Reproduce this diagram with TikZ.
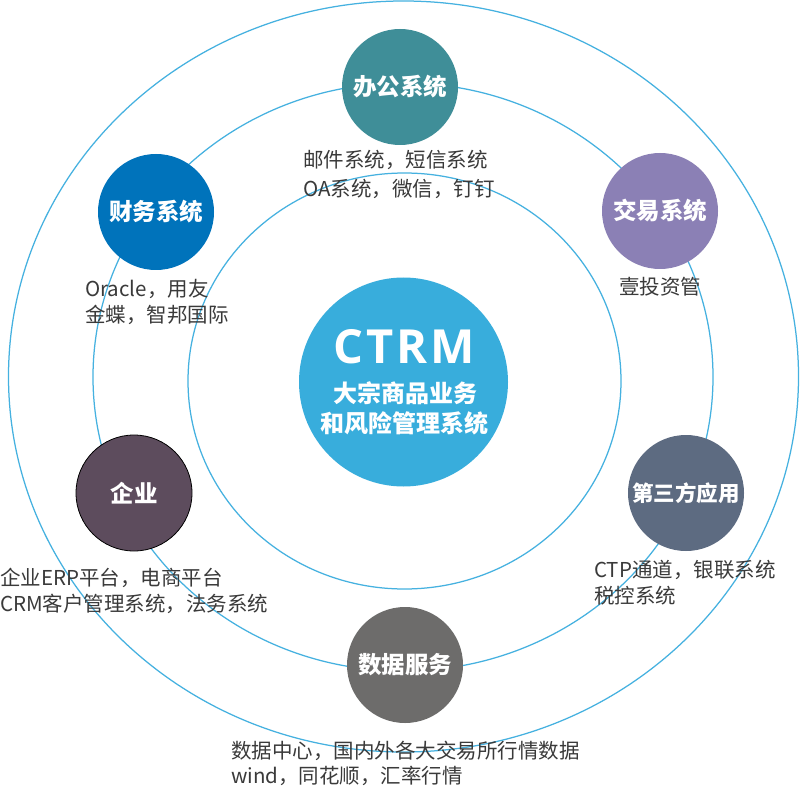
\documentclass[tikz,border=0pt]{standalone}
\usepackage{fontspec}
\setmainfont{Noto Sans CJK SC}
\newfontfamily\ctrmfont{Open Sans}
\definecolor{ringc}{HTML}{45B1E0}
\definecolor{ctrmc}{HTML}{38ADDC}
\definecolor{officec}{HTML}{3F8E98}
\definecolor{financec}{HTML}{0073BB}
\definecolor{tradec}{HTML}{8B80B5}
\definecolor{entc}{HTML}{5D4C5D}
\definecolor{thirdc}{HTML}{5D6B81}
\definecolor{datac}{HTML}{6D6C6B}
\definecolor{txtc}{HTML}{3A3A3A}
\begin{document}
\begin{tikzpicture}[x=1pt,y=-1pt,
  ring/.style={draw=ringc,line width=1.25pt},
  sat/.style={circle,minimum size=116pt,inner sep=0pt,text=white,font=\fontsize{23.5}{26}\selectfont\bfseries},
  desc/.style={anchor=west,inner sep=0pt,text=txtc,font=\fontsize{20.5}{26}\selectfont,text height=16.4pt,text depth=1pt},
  ctrmline/.style={inner sep=0pt,text=white,font=\fontsize{24}{26}\selectfont\bfseries,text height=19.2pt,text depth=1.2pt}]
\useasboundingbox (0,0) rectangle (800,786);
\fill[white] (0,0) rectangle (800,786);
% rings
\draw[ring] (403.5,376.5) ellipse [x radius=395, y radius=375.5];
\draw[ring] (403,377) ellipse [x radius=310, y radius=294];
\draw[ring] (404.5,381) ellipse [x radius=216.5, y radius=208];
% centre
\node[circle,fill=ctrmc,minimum size=209pt,inner sep=0pt] (ctrm) at (403.5,382) {};
\node[inner sep=0pt,text=white,font=\ctrmfont\fontsize{47}{50}\selectfont\bfseries\addfontfeature{LetterSpace=6},text height=33.6pt,text depth=0pt,anchor=center] (ctrmt) at (404,347) {CTRM};
\node[ctrmline] (ctrm1) at (405,393) {大宗商品业务};
\node[ctrmline] (ctrm2) at (404.5,423) {和风险管理系统};
% satellites
\node[sat,fill=officec] (office) at (400,87) {办公系统};
\node[sat,fill=financec] (finance) at (156,212) {财务系统};
\node[sat,fill=tradec] (trade) at (660,211) {交易系统};
\node[sat,fill=entc,draw=black,line width=0.8pt] (ent) at (134,493) {企业};
\node[sat,fill=thirdc,font=\fontsize{21.5}{24}\selectfont\bfseries] (third) at (686,493) {第三方应用};
\node[sat,fill=datac] (data) at (405,665) {数据服务};
% descriptions
\node[desc] (office1) at (303,160) {邮件系统，短信系统};
\node[desc] (office2) at (303,189) {OA系统，微信，钉钉};
\node[desc] (finance1) at (85,289) {Oracle，用友};
\node[desc] (finance2) at (85,315) {金蝶，智邦国际};
\node[desc] (trade1) at (619,287) {壹投资管};
\node[desc] (ent1) at (0,578) {企业ERP平台，电商平台};
\node[desc] (ent2) at (0,604) {CRM客户管理系统，法务系统};
\node[desc] (third1) at (594,570) {CTP通道，银联系统};
\node[desc] (third2) at (594,596) {税控系统};
\node[desc] (data1) at (231,751) {数据中心，国内外各大交易所行情数据};
\node[desc] (data2) at (231,776) {wind，同花顺，汇率行情};
\end{tikzpicture}
\end{document}
